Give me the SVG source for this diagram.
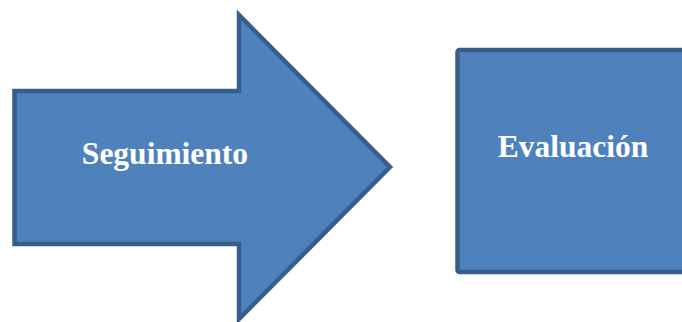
<svg xmlns="http://www.w3.org/2000/svg" width="682" height="322" viewBox="0 0 682 322">
<style>
.shape{fill:#4F81BD;stroke:#385D8A;stroke-width:4.5;stroke-linejoin:miter;stroke-miterlimit:10}
.lbl{font-family:"Liberation Serif","Times New Roman",serif;font-weight:bold;font-size:31.5px;fill:#FFFFFF;text-anchor:middle}
</style>
<rect width="682" height="322" fill="#FFFFFF"/>
<g id="connectors"></g>
<g id="seguimiento">
<path class="shape" d="M14.5,91 L239,91 L239,15 L390,167 L239,319 L239,244 L14.5,244 Z"/>
<text class="lbl" x="165" y="164">Seguimiento</text>
</g>
<g id="evaluacion">
<rect class="shape" x="457.5" y="50" width="240" height="222" rx="2"/>
<text class="lbl" x="573" y="157">Evaluación</text>
</g>
</svg>
